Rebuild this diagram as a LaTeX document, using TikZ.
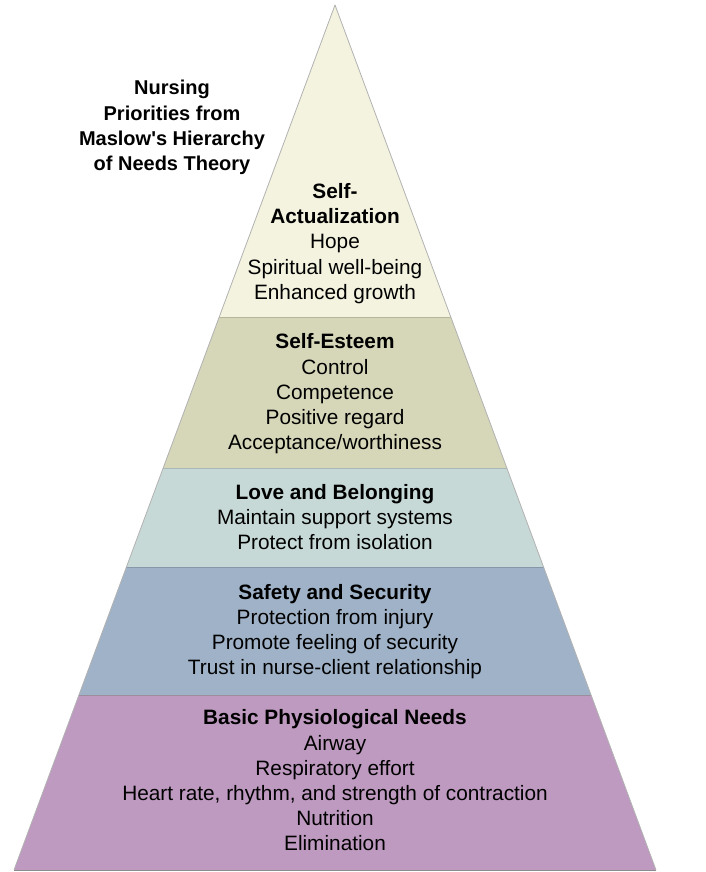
\documentclass[tikz,border=0pt]{standalone}
\usepackage{fontspec}
\setmainfont{Liberation Sans}
\definecolor{tierA}{HTML}{F4F3DF}
\definecolor{tierB}{HTML}{D6D6B9}
\definecolor{tierC}{HTML}{C7D9D6}
\definecolor{tierD}{HTML}{9FB2C7}
\definecolor{tierE}{HTML}{BE99C0}
\tikzset{
  tiertext/.style={align=center, inner sep=0pt, font=\fontsize{20.8}{25.2}\selectfont},
  tierline/.style={line width=0.8pt}
}
\begin{document}
\begin{tikzpicture}[x=1pt, y=-1pt]
        \useasboundingbox[fill=white] (0,0) rectangle (705,872);

        % Niveles
        \fill[tierE] (78.9,695) -- (591.1,695) -- (656,870) -- (14,870) -- cycle;
        \fill[tierD] (126.4,567) -- (543.6,567) -- (591.1,695) -- (78.9,695) -- cycle;
        \fill[tierC] (163.2,468) -- (506.8,468) -- (543.6,567) -- (126.4,567) -- cycle;
        \fill[tierB] (219.2,317) -- (450.8,317) -- (506.8,468) -- (163.2,468) -- cycle;
        \fill[tierA] (335,5) -- (450.8,317) -- (219.2,317) -- cycle;

        % Bordes
        \draw[tierline, tierE!60!black!70] (78.9,695) -- (591.1,695);
        \draw[tierline, tierD!85!black] (126.4,567) -- (543.6,567);
        \draw[tierline, tierC!85!black] (163.2,468) -- (506.8,468);
        \draw[tierline, tierB!85!black] (219.2,317) -- (450.8,317);
        \draw[tierline, black!45] (14,870) -- (656,870);
        \draw[tierline, black!30] (335,5) -- (14,870);
        \draw[tierline, black!30] (335,5) -- (656,870);

        % Titulo
        \node[tiertext, font=\fontsize{20}{25.2}\selectfont\bfseries] (title) at (172,127.5)
          {Nursing\\Priorities from\\Maslow\textquotesingle s Hierarchy\\of Needs Theory};

        % Textos
        \node[tiertext] (actual) at (335,243.5)
          {\textbf{Self-}\\\textbf{Actualization}\\Hope\\Spiritual well-being\\Enhanced growth};
        \node[tiertext] (esteem) at (335,394)
          {\textbf{Self-Esteem}\\Control\\Competence\\Positive regard\\Acceptance/worthiness};
        \node[tiertext] (love) at (335,517)
          {\textbf{Love and Belonging}\\Maintain support systems\\Protect from isolation};
        \node[tiertext] (safety) at (335,631.5)
          {\textbf{Safety and Security}\\Protection from injury\\Promote feeling of security\\Trust in nurse-client relationship};
        \node[tiertext] (basic) at (335,780.5)
          {\textbf{Basic Physiological Needs}\\Airway\\Respiratory effort\\Heart rate, rhythm, and strength of contraction\\Nutrition\\Elimination};
\end{tikzpicture}
\end{document}
